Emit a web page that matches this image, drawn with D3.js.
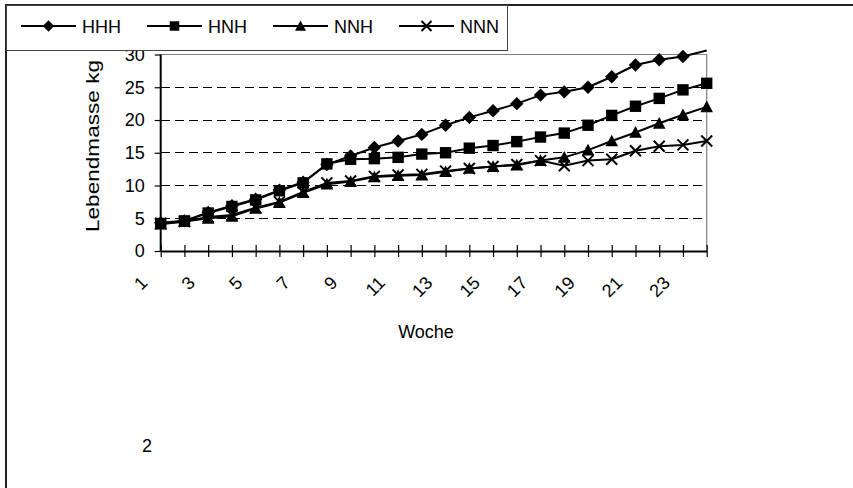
<!DOCTYPE html>
<html>
<head>
<meta charset="utf-8">
<script src="https://cdn.jsdelivr.net/npm/d3@7"></script>
<style>
  html, body { margin: 0; padding: 0; background: #fff; }
  svg { display: block; font-family: "Liberation Sans", Arial, sans-serif; }
</style>
</head>
<body>
<svg id="chart" width="853" height="488"></svg>
<script>
// ---- data ----
const weeks = [1,2,3,4,5,6,7,8,9,10,11,12,13,14,15,16,17,18,19,20,21,22,23,24];
const HHH = [4.3,4.6,5.9,6.9,7.9,9.3,10.5,13.2,14.5,15.8,16.8,17.8,19.2,20.4,21.4,22.5,23.8,24.3,25.0,26.6,28.4,29.2,29.7,30.6];
const HNH = [4.2,4.6,5.8,6.8,7.8,9.2,10.4,13.3,14.0,14.1,14.3,14.8,15.0,15.7,16.1,16.7,17.4,18.0,19.2,20.7,22.1,23.3,24.6,25.6];
const NNH = [4.1,4.5,5.0,5.3,6.5,7.4,8.9,10.2,10.6,11.3,11.5,11.6,12.1,12.6,12.9,13.1,13.8,14.3,15.4,16.8,18.1,19.5,20.8,22.0];
const NNN = [4.2,4.5,5.2,5.5,6.6,7.5,9.0,10.4,10.7,11.4,11.6,11.7,12.2,12.6,12.9,13.2,13.8,13.0,13.8,14.0,15.3,16.0,16.2,16.8];
const seriesNames = ["HHH","HNH","NNH","NNN"];
const seriesValues = [HHH, HNH, NNH, NNN];
const xTickLabels = ["1","3","5","7","9","11","13","15","17","19","21","23"];
const yTickValues = [0,5,10,15,20,25,30];
const xTitle = "Woche";
const yTitle = "Lebendmasse kg";
const footNote = "2";

// ---- marker shapes ----
const symDiamond = { draw(ctx, size) { const r = Math.sqrt(size) / 2; ctx.moveTo(0,-r); ctx.lineTo(r,0); ctx.lineTo(0,r); ctx.lineTo(-r,0); ctx.closePath(); } };
const symSquare = { draw(ctx, size) { const r = Math.sqrt(size) / 2; ctx.rect(-r,-r,2*r,2*r); } };
const symTriangle = { draw(ctx, size) { const r = Math.sqrt(size) / 2; ctx.moveTo(0,-r); ctx.lineTo(r,r*0.85); ctx.lineTo(-r,r*0.85); ctx.closePath(); } };
const symCross = { draw(ctx, size) { const r = Math.sqrt(size) / 2; ctx.moveTo(-r,-r); ctx.lineTo(r,r); ctx.moveTo(r,-r); ctx.lineTo(-r,r); } };
const markerStyles = [
  { type: symDiamond, size: 180, legendSize: 130, filled: true },
  { type: symSquare, size: 130, legendSize: 90, filled: true },
  { type: symTriangle, size: 160, legendSize: 120, filled: true },
  { type: symCross, size: 120, legendSize: 100, filled: false }
];

const svg = d3.select("#chart");
svg.append("rect").attr("width", 853).attr("height", 488).attr("fill", "#fff");

const plot = { left: 160.7, right: 706.7, top: 54.5, bottom: 251 };
const x = d3.scaleLinear().domain([1, 24]).range([plot.left, plot.right]);
const y = d3.scaleLinear().domain([0, 30]).range([plot.bottom, plot.top]);

// gridlines
svg.append("g").selectAll("line").data(yTickValues.filter(v => v > 0)).join("line")
  .attr("x1", plot.left).attr("x2", plot.right)
  .attr("y1", d => y(d)).attr("y2", d => y(d))
  .attr("stroke", "#000").attr("stroke-width", 1).attr("stroke-dasharray", "9,5")
  .attr("shape-rendering", "crispEdges");

// plot area border (top / right)
svg.append("path")
  .attr("d", `M${plot.left},${plot.top}H${plot.right}V${plot.bottom}`)
  .attr("fill", "none").attr("stroke", "#808080").attr("stroke-width", 1.2);

// y axis
const yAxis = d3.axisLeft(y).tickValues(yTickValues).tickSize(6).tickPadding(10);
const gy = svg.append("g").attr("transform", `translate(${plot.left},0)`).call(yAxis);
gy.select(".domain").attr("stroke", "#000").attr("stroke-width", 2).attr("d", `M0,${plot.top}V${plot.bottom}`);
gy.selectAll(".tick line").attr("stroke", "#000").attr("stroke-width", 1.2);
gy.selectAll(".tick text").attr("font-size", 18).attr("fill", "#000")
  .attr("font-family", "Liberation Sans, Arial, sans-serif");

// x axis
const xAxis = d3.axisBottom(x).tickValues(weeks).tickSize(0).tickFormat("");
const gx = svg.append("g").attr("transform", `translate(0,${plot.bottom})`).call(xAxis);
gx.select(".domain").attr("stroke", "#000").attr("stroke-width", 2);
gx.selectAll(".tick").append("line").attr("y1", -6).attr("y2", 6).attr("stroke", "#000").attr("stroke-width", 1.2);

// x tick labels rotated
svg.append("g").selectAll("text").data(xTickLabels).join("text")
  .attr("transform", d => `translate(${x(+d) - 12},${plot.bottom + 33}) rotate(-45)`)
  .attr("text-anchor", "end").attr("font-size", 18).attr("fill", "#000")
  .text(d => d);

// titles
svg.append("text").attr("x", 426).attr("y", 338).attr("text-anchor", "middle")
  .attr("font-size", 18).attr("fill", "#000").text(xTitle);
svg.append("text").attr("transform", `translate(99,146) rotate(-90)`).attr("text-anchor", "middle")
  .attr("font-size", 19).attr("textLength", 172).attr("lengthAdjust", "spacingAndGlyphs")
  .attr("fill", "#000").text(yTitle);
svg.append("text").attr("x", 147).attr("y", 452).attr("text-anchor", "middle")
  .attr("font-size", 18).attr("fill", "#000").text(footNote);

// series lines
const line = d3.line().x((d, i) => x(weeks[i])).y(d => y(d));
seriesValues.forEach((vals, si) => {
  svg.append("path").datum(vals).attr("d", line)
    .attr("fill", "none").attr("stroke", "#000").attr("stroke-width", 2);
});
// markers
seriesValues.forEach((vals, si) => {
  const ms = markerStyles[si];
  const pts = vals.map((v, i) => ({ w: weeks[i], v })).filter(p => p.v <= 30);
  svg.append("g").selectAll("path").data(pts).join("path")
    .attr("transform", p => `translate(${x(p.w)},${y(p.v)})`)
    .attr("d", d3.symbol().type(ms.type).size(ms.size))
    .attr("fill", ms.filled ? "#000" : "none")
    .attr("stroke", "#000").attr("stroke-width", ms.filled ? 0 : 2);
});

// outer frame
svg.append("path").attr("d", "M6,488V5H853").attr("fill", "none").attr("stroke", "#222").attr("stroke-width", 2);

// legend
const lg = svg.append("g");
lg.append("rect").attr("x", 6.5).attr("y", 5.5).attr("width", 501).attr("height", 45)
  .attr("fill", "#fff").attr("stroke", "#444").attr("stroke-width", 1);
const legendX = [21, 147, 273, 399];
seriesNames.forEach((name, si) => {
  const ms = markerStyles[si];
  const g = lg.append("g").attr("transform", `translate(${legendX[si]},26)`);
  g.append("line").attr("x1", 0).attr("x2", 55).attr("stroke", "#000").attr("stroke-width", 2);
  g.append("path").attr("transform", "translate(27.5,0)")
    .attr("d", d3.symbol().type(ms.type).size(ms.legendSize))
    .attr("fill", ms.filled ? "#000" : "none")
    .attr("stroke", "#000").attr("stroke-width", ms.filled ? 0 : 2);
  g.append("text").attr("x", 61).attr("y", 7).attr("font-size", 18).attr("fill", "#000").text(name);
});
</script>
</body>
</html>
